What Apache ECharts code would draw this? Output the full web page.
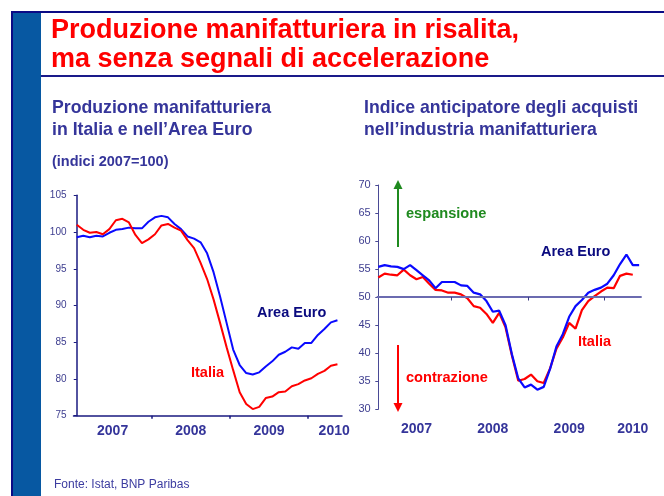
<!DOCTYPE html>
<html>
<head>
<meta charset="utf-8">
<script src="https://cdn.jsdelivr.net/npm/echarts@6/dist/echarts.min.js"></script>
<style>
  html, body { margin: 0; padding: 0; background: #ffffff; }
  #main { width: 664px; height: 496px; }
</style>
</head>
<body>
<div id="main"></div>
<script>
// produzione manifatturiera, indici 2007=100, mensile gen 2007 - mag 2010
const euroProd = [99.3, 99.5, 99.3, 99.5, 99.4, 99.9, 100.3, 100.4, 100.6, 100.5, 100.5, 101.4,
  102.0, 102.2, 102.0, 101.1, 100.4, 99.4, 99.1, 98.6, 97.1, 94.5, 91.2, 87.6,
  84.0, 81.9, 80.8, 80.6, 80.9, 81.7, 82.4, 83.3, 83.7, 84.3, 84.1, 84.9,
  84.9, 86.0, 86.8, 87.7, 88.0];
const itaProd = [101.0, 100.3, 99.9, 100.0, 99.7, 100.4, 101.6, 101.8, 101.3, 99.6, 98.5, 99.0,
  99.7, 100.9, 101.1, 100.6, 100.2, 98.9, 97.8, 95.8, 93.6, 90.8, 87.6, 84.3,
  81.2, 78.2, 76.6, 75.9, 76.2, 77.4, 77.6, 78.2, 78.3, 79.0, 79.3, 79.8,
  80.1, 80.7, 81.1, 81.8, 82.0];

// PMI manifatturiero, gen 2007 - giu 2010 (Italia fino a mag 2010)
const euroPmi = [55.4, 55.7, 55.5, 55.4, 55.0, 55.7, 54.8, 53.9, 53.0, 51.6, 52.7, 52.7,
  52.7, 52.1, 52.0, 50.8, 50.5, 49.3, 47.4, 47.6, 45.0, 39.8, 35.5, 33.9,
  34.4, 33.5, 34.0, 37.2, 41.2, 43.4, 46.5, 48.4, 49.5, 50.8, 51.3, 51.7,
  52.4, 53.9, 55.9, 57.6, 55.7, 55.7];
const itaPmi = [53.5, 54.2, 54.0, 53.9, 54.9, 53.9, 53.2, 53.6, 52.4, 51.3, 51.2, 50.8,
  50.8, 50.5, 49.8, 48.4, 48.1, 47.0, 45.4, 47.2, 44.6, 39.6, 35.1, 35.4,
  36.2, 35.0, 34.7, 37.3, 40.8, 42.8, 45.4, 44.4, 47.7, 49.3, 50.2, 51.0,
  51.7, 51.6, 53.8, 54.2, 54.0];

const yearBounds = [11.5, 23.5, 35.5];     // inizio 2008, 2009, 2010 (mesi da gen 2007)
const yearLabelsLeft = [5.5, 17.5, 29.5, 39.5];
const yearLabelsRight = [6, 18, 30, 40];

const FONT = "'Liberation Sans', Arial, sans-serif";
const NAVY = '#1a1a80';
const SLATE = '#35359a';
const BLUE = '#0a0aff';
const RED = '#ff0000';
const GREEN = '#1f8a1f';

const toPairs = (arr) => arr.map((v, i) => [i, v]);
const yearOf = (v) => String(2007 + Math.floor(v / 12));

const chart = echarts.init(document.getElementById('main'));

const txt = (text, x, y, size, color, bold, align) => ({
  type: 'text',
  x: x, y: y,
  silent: true,
  style: {
    text: text,
    fill: color,
    font: (bold ? 'bold ' : '') + size + 'px ' + FONT,
    textAlign: align || 'left',
    textVerticalAlign: 'middle'
  }
});

const option = {
  backgroundColor: '#ffffff',
  animation: false,
  textStyle: { fontFamily: FONT },
  grid: [
    { left: 73.5, top: 195.3, width: 268.5, height: 220.4, containLabel: false, outerBoundsMode: 'none' },
    { left: 376.7, top: 185, width: 265, height: 224.3, containLabel: false, outerBoundsMode: 'none' }
  ],
  xAxis: [
    {
      type: 'value', gridIndex: 0, min: -0.5, max: 40.7,
      splitLine: { show: false },
      axisLine: { show: true, lineStyle: { color: NAVY, width: 1.5 } },
      axisTick: { show: true, customValues: yearBounds, length: 3, lineStyle: { color: NAVY, width: 1.5 } },
      axisLabel: {
        customValues: yearLabelsLeft, formatter: yearOf, margin: 8,
        fontSize: 14, fontWeight: 'bold', color: SLATE, fontFamily: FONT
      }
    },
    {
      type: 'value', gridIndex: 1, min: -0.25, max: 41.4,
      splitLine: { show: false },
      axisLine: { show: false },
      axisTick: { show: false },
      axisLabel: {
        customValues: yearLabelsRight, formatter: yearOf, margin: 13,
        fontSize: 14, fontWeight: 'bold', color: SLATE, fontFamily: FONT
      }
    }
  ],
  yAxis: [
    {
      type: 'value', gridIndex: 0, min: 75, max: 105, interval: 5,
      splitLine: { show: false },
      axisLine: { show: true, lineStyle: { color: NAVY, width: 1.5 } },
      axisTick: { show: true, length: 3, lineStyle: { color: NAVY } },
      axisLabel: { fontSize: 10, color: '#3d3d8f', margin: 7, fontFamily: FONT }
    },
    {
      type: 'value', gridIndex: 1, min: 30, max: 70, interval: 5,
      splitLine: { show: false },
      axisLine: { show: true, lineStyle: { color: '#4a4a95', width: 1 } },
      axisTick: { show: true, length: 3, lineStyle: { color: '#4a4a95' } },
      axisLabel: { fontSize: 11, color: '#3d3d8f', margin: 6, fontFamily: FONT }
    }
  ],
  series: [
    {
      // linea 50 e tacche degli anni
      type: 'line', xAxisIndex: 1, yAxisIndex: 1, data: [], z: 1,
      markLine: {
        silent: true, symbol: 'none', animation: false,
        label: { show: false },
        lineStyle: { color: '#6b6bb0', width: 2, type: 'solid' },
        data: [{ yAxis: 50 }].concat(yearBounds.map((b) => [
          { coord: [b, 50], lineStyle: { width: 1, color: '#3a3a80' } },
          { coord: [b, 49.4] }
        ]))
      }
    },
    {
      name: 'Area Euro', type: 'line', xAxisIndex: 0, yAxisIndex: 0, z: 3,
      data: toPairs(euroProd), showSymbol: false,
      lineStyle: { color: BLUE, width: 2 }
    },
    {
      name: 'Italia', type: 'line', xAxisIndex: 0, yAxisIndex: 0, z: 3,
      data: toPairs(itaProd), showSymbol: false,
      lineStyle: { color: RED, width: 2 }
    },
    {
      name: 'Italia PMI', type: 'line', xAxisIndex: 1, yAxisIndex: 1, z: 3,
      data: toPairs(itaPmi), showSymbol: false,
      lineStyle: { color: RED, width: 2.2 }
    },
    {
      name: 'Area Euro PMI', type: 'line', xAxisIndex: 1, yAxisIndex: 1, z: 4,
      data: toPairs(euroPmi), showSymbol: false,
      lineStyle: { color: BLUE, width: 2.2 }
    }
  ],
  graphic: [
    // cornice della slide
    { type: 'rect', silent: true, shape: { x: 13, y: 13, width: 28, height: 483 }, style: { fill: '#0758a2' } },
    { type: 'rect', silent: true, shape: { x: 11, y: 11, width: 653, height: 2 }, style: { fill: '#0a0a85' } },
    { type: 'rect', silent: true, shape: { x: 11, y: 11, width: 2, height: 485 }, style: { fill: '#0a0a85' } },
    { type: 'rect', silent: true, shape: { x: 41, y: 75, width: 623, height: 2 }, style: { fill: '#1a1a8a' } },

    txt('Produzione manifatturiera in risalita,', 51, 31, 27, RED, true),
    txt('ma senza segnali di accelerazione', 51, 60, 27, RED, true),

    txt('Produzione manifatturiera', 52, 108.5, 17.7, SLATE, true),
    txt('in Italia e nell\u2019Area Euro', 52, 130, 17.7, SLATE, true),
    txt('(indici 2007=100)', 52, 161.5, 14.5, SLATE, true),

    txt('Indice anticipatore degli acquisti', 364, 108.5, 17.7, SLATE, true),
    txt('nell\u2019industria manifatturiera', 364, 130, 17.7, SLATE, true),

    txt('Area Euro', 257, 313, 14.5, '#0a0a7f', true),
    txt('Italia', 191, 373, 14.5, RED, true),
    txt('Area Euro', 541, 252, 14.5, '#0a0a7f', true),
    txt('Italia', 578, 342, 14.5, RED, true),

    // frecce espansione / contrazione
    { type: 'line', silent: true, shape: { x1: 398, y1: 247, x2: 398, y2: 187 }, style: { stroke: GREEN, lineWidth: 2 } },
    { type: 'polygon', silent: true, shape: { points: [[393.5, 189], [402.5, 189], [398, 180]] }, style: { fill: GREEN } },
    txt('espansione', 406, 214, 14.6, GREEN, true),
    { type: 'line', silent: true, shape: { x1: 398, y1: 345, x2: 398, y2: 404 }, style: { stroke: RED, lineWidth: 2 } },
    { type: 'polygon', silent: true, shape: { points: [[393.5, 403], [402.5, 403], [398, 412]] }, style: { fill: RED } },
    txt('contrazione', 406, 378, 14.6, RED, true),

    txt('Fonte: Istat, BNP Paribas', 54, 485, 12, '#3c3ca0', false)
  ]
};

chart.setOption(option);
</script>
</body>
</html>
